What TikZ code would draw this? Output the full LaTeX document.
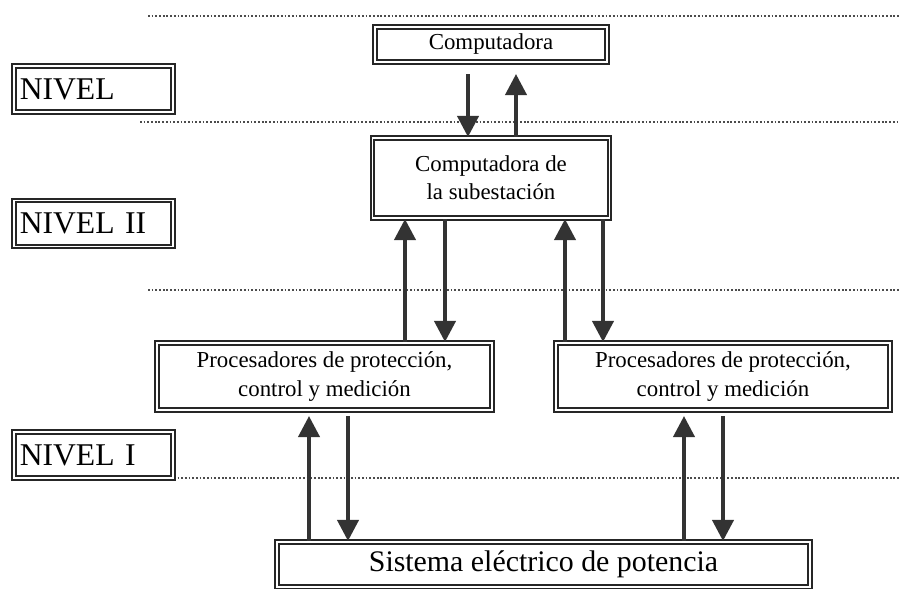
\documentclass[tikz,border=0pt]{standalone}
\usepackage{fontspec}
\setmainfont{Liberation Serif}
\usetikzlibrary{arrows.meta}

\begin{document}
\begin{tikzpicture}
\tikzset{caja/.style = {shape=rectangle,draw=black!85,line width=1.15pt,double=white,double distance=0.7pt,align=center,inner sep=0pt,font=\fontsize{13}{16}\selectfont}}
\tikzset{nivel/.style = {caja,minimum width=3.18cm,minimum height=0.92cm,text width=2.95cm,align=left,font=\fontsize{18}{20}\selectfont}}
\tikzset{edge/.style = {draw=black!80,line width=2.2pt,-{Triangle[width=12pt,length=12pt]}}}
\tikzset{linea/.style = {draw=black!70,line width=1.6pt,dash pattern=on 1pt off 1.1pt}}
\useasboundingbox (0,0) rectangle (18,-11.78);
% level lines
\draw[linea] (2.96,-0.32) -- (18,-0.32);
\draw[linea] (2.80,-2.44) -- (18,-2.44);
\draw[linea] (2.96,-5.80) -- (18,-5.80);
\draw[linea] (2.96,-9.56) -- (18,-9.56);
% levels
\node[nivel] (n3) at (1.87,-1.78) {NIVEL};
\node[nivel] (n2) at (1.87,-4.47) {NIVEL II};
\node[nivel] (n1) at (1.87,-9.10) {NIVEL I};
% blocks
\node[caja,minimum width=4.64cm,minimum height=0.7cm] (comp) at (9.82,-0.89) {Computadora};
\node[caja,minimum width=4.74cm,minimum height=1.6cm] (subst) at (9.82,-3.56) {Computadora de\\la subestación};
\node[caja,minimum width=6.7cm,minimum height=1.34cm] (procL) at (6.49,-7.53) {Procesadores de protección,\\control y medición};
\node[caja,minimum width=6.68cm,minimum height=1.34cm] (procR) at (14.46,-7.53) {Procesadores de protección,\\control y medición};
\node[caja,minimum width=10.66cm,minimum height=0.9cm,font=\fontsize{17}{20}\selectfont] (sis) at (10.87,-11.29) {Sistema eléctrico de potencia};
% edges
\draw[edge] ([xshift=-0.46cm,yshift=-0.22cm]comp.south) -- ([xshift=-0.46cm]subst.north);
\draw[edge] ([xshift=0.50cm]subst.north) -- ([xshift=0.50cm,yshift=-0.22cm]comp.south);
\draw[edge] ([xshift=1.61cm]procL.north) -- ([xshift=-1.72cm]subst.south);
\draw[edge] ([xshift=-0.92cm]subst.south) -- ([xshift=2.41cm]procL.north);
\draw[edge] ([xshift=-3.16cm]procR.north) -- ([xshift=1.48cm]subst.south);
\draw[edge] ([xshift=2.24cm]subst.south) -- ([xshift=-2.40cm]procR.north);
\draw[edge] ([xshift=-4.69cm]sis.north) -- ([xshift=-0.31cm,yshift=-0.1cm]procL.south);
\draw[edge] ([xshift=0.47cm,yshift=-0.1cm]procL.south) -- ([xshift=-3.91cm]sis.north);
\draw[edge] ([xshift=2.81cm]sis.north) -- ([xshift=-0.78cm,yshift=-0.1cm]procR.south);
\draw[edge] ([yshift=-0.1cm]procR.south) -- ([xshift=3.59cm]sis.north);
\end{tikzpicture}
\end{document}
